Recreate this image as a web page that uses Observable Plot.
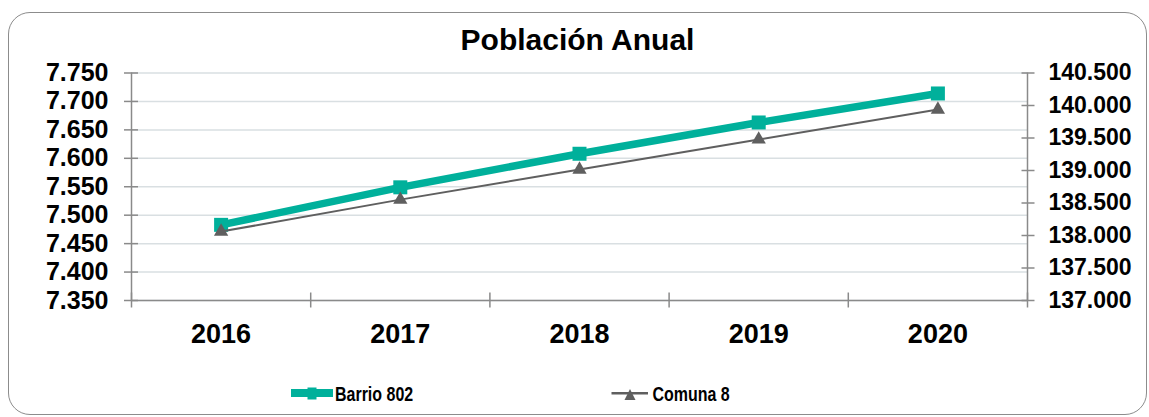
<!DOCTYPE html>
<html>
<head>
<meta charset="utf-8">
<script src="https://cdn.jsdelivr.net/npm/d3@7"></script>
<script src="https://cdn.jsdelivr.net/npm/@observablehq/plot@0.6"></script>
<style>
  html, body { margin: 0; padding: 0; background: #fff; }
  #wrap { position: relative; width: 1149px; height: 417px; overflow: hidden; font-family: "Liberation Sans", Arial, sans-serif; }
  #frame { position: absolute; left: 8px; top: 12px; width: 1139px; height: 403px; border: 1.5px solid #8c8c8c; border-radius: 22px; box-sizing: border-box; }
  #title { position: absolute; left: 0; width: 1155px; top: 25px; text-align: center; font-size: 30px; line-height: 30px; font-weight: bold; color: #000; }
  #chart { position: absolute; left: 0; top: 0; }
  #legend { position: absolute; left: 0; top: 0; }
</style>
</head>
<body>
<div id="wrap">
  <div id="frame"></div>
  <div id="chart"></div>
  <div id="title">Población Anual</div>
  <svg id="legend" width="1149" height="417"></svg>
</div>
<script>
const years = [2016, 2017, 2018, 2019, 2020];
const barrio802 = [7483, 7549, 7608, 7663, 7714];
const comuna8 = [138060, 138552, 139015, 139477, 139938];
const leftTicks = [7350, 7400, 7450, 7500, 7550, 7600, 7650, 7700, 7750];
const rightTicks = [137000, 137500, 138000, 138500, 139000, 139500, 140000, 140500];
const seriesNames = ["Barrio 802", "Comuna 8"];

const leftDomain = [leftTicks[0], leftTicks[leftTicks.length - 1]];
const rightDomain = [rightTicks[0], rightTicks[rightTicks.length - 1]];
const toLeft = r => leftDomain[0] + (r - rightDomain[0]) * (leftDomain[1] - leftDomain[0]) / (rightDomain[1] - rightDomain[0]);
const toRight = l => rightDomain[0] + (l - leftDomain[0]) * (rightDomain[1] - rightDomain[0]) / (leftDomain[1] - leftDomain[0]);

const es = d3.formatLocale({decimal: ",", thousands: ".", grouping: [3], currency: ["", "€"]});
const fmt = es.format(",d");

const rows = years.map((y, i) => ({year: y, barrio: barrio802[i], comuna: toLeft(comuna8[i])}));
const bounds = years.map(y => y - 0.5).concat([years[years.length - 1] + 0.5]);

const teal = "#00b09b";
const grey = "#5f5f5f";
const axisGrey = "#8a8a8a";

const chart = Plot.plot({
  width: 1149,
  height: 417,
  marginLeft: 131,
  marginRight: 122,
  marginTop: 72.5,
  marginBottom: 117,
  x: {type: "linear", domain: [bounds[0], bounds[bounds.length - 1]], label: null},
  y: {domain: leftDomain, label: null},
  style: {fontFamily: "'Liberation Sans', Arial, sans-serif", background: "transparent", overflow: "visible", color: "#000"},
  marks: [
    Plot.gridY(leftTicks, {stroke: "#d9dfe2", strokeOpacity: 1, strokeWidth: 1.5}),
    Plot.ruleX([bounds[0], bounds[bounds.length - 1]], {stroke: axisGrey, strokeWidth: 1.5}),
    Plot.ruleY([leftDomain[0]], {stroke: axisGrey, strokeWidth: 1.5}),
    Plot.axisY(leftTicks, {label: null, tickSize: 14, dx: 7, tickFormat: () => "", stroke: axisGrey, strokeWidth: 1.5}),
    Plot.axisY(leftTicks, {label: null, tickSize: 0, tickPadding: 23, tickFormat: fmt, fontSize: 25, fontWeight: "bold", fill: "#000"}),
    Plot.axisY(rightTicks.map(toLeft), {label: null, anchor: "right", tickSize: 13, dx: -6.5, tickFormat: () => "", stroke: axisGrey, strokeWidth: 1.5}),
    Plot.axisY(rightTicks.map(toLeft), {label: null, anchor: "right", tickSize: 0, tickPadding: 21, tickFormat: v => fmt(Math.round(toRight(v))), fontSize: 23, fontWeight: "bold", fill: "#000"}),
    Plot.axisX(bounds, {label: null, tickSize: 15, dy: -7.5, tickFormat: () => "", stroke: axisGrey, strokeWidth: 1.5}),
    Plot.axisX(years, {label: null, tickSize: 0, tickPadding: 23, tickFormat: d => String(d), fontSize: 27, fontWeight: "bold", fill: "#000"}),
    Plot.line(rows, {x: "year", y: "barrio", stroke: teal, strokeWidth: 7.5}),
    Plot.dot(rows, {x: "year", y: "barrio", symbol: "square", r: 7.9, fill: teal, stroke: "none"}),
    Plot.line(rows, {x: "year", y: "comuna", stroke: grey, strokeWidth: 2}),
    Plot.dot(rows, {x: "year", y: "comuna", symbol: "triangle", r: 5.3, fill: grey, stroke: "none"})
  ]
});
document.getElementById("chart").appendChild(chart);

// Legend
const ns = "http://www.w3.org/2000/svg";
const lg = document.getElementById("legend");
function el(name, attrs) {
  const e = document.createElementNS(ns, name);
  for (const k in attrs) e.setAttribute(k, attrs[k]);
  lg.appendChild(e);
  return e;
}
function label(x, y, txt) {
  const t = el("text", {x: 0, y: 0, transform: `translate(${x},${y}) scale(0.78,1)`, "font-family": "'Liberation Sans', Arial, sans-serif", "font-size": 20.5, "font-weight": "bold", fill: "#000"});
  t.textContent = txt;
}
el("line", {x1: 291, x2: 333, y1: 393, y2: 393, stroke: teal, "stroke-width": 8});
el("rect", {x: 307.5, y: 387.5, width: 9, height: 12, fill: teal});
label(335, 400.7, seriesNames[0]);
el("line", {x1: 611.5, x2: 648, y1: 393.3, y2: 393.3, stroke: grey, "stroke-width": 2.5});
el("path", {d: "M630,389 L635.5,400 L624.5,400 Z", fill: grey});
label(652.5, 400.7, seriesNames[1]);
</script>
</body>
</html>
